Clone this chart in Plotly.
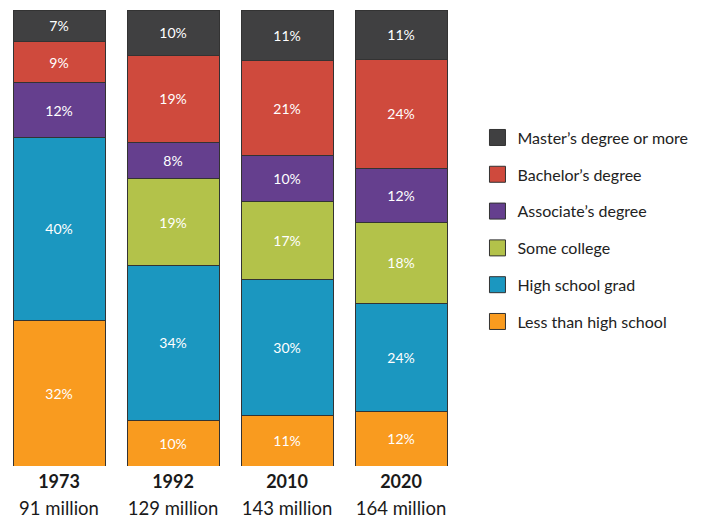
import plotly.graph_objects as go

years = ["1973", "1992", "2010", "2020"]
workers = ["91 million", "129 million", "143 million", "164 million"]

categories = ["Less than high school", "High school grad", "Some college",
              "Associate’s degree", "Bachelor’s degree", "Master’s degree or more"]
values = {
    "Less than high school": [32, 10, 11, 12],
    "High school grad": [40, 34, 30, 24],
    "Some college": [0, 19, 17, 18],
    "Associate’s degree": [12, 8, 10, 12],
    "Bachelor’s degree": [9, 19, 21, 24],
    "Master’s degree or more": [7, 10, 11, 11],
}
colors = {
    "Less than high school": "#f99b1f",
    "High school grad": "#1b97c0",
    "Some college": "#b3c24a",
    "Associate’s degree": "#653f8e",
    "Bachelor’s degree": "#cf4a3d",
    "Master’s degree or more": "#404041",
}

xlabels = [f"<span style='font-size:18px'><b>{y}</b></span><br><span style='font-size:18.5px'>{w}</span>"
           for y, w in zip(years, workers)]

fig = go.Figure()
for c in categories:
    v = values[c]
    fig.add_trace(go.Bar(
        x=xlabels, y=v, name=c, showlegend=False,
        marker=dict(color=colors[c], line=dict(color="#333333", width=1)),
        text=[f"{x}%" if x else "" for x in v],
        textposition="inside", insidetextanchor="middle",
        textfont=dict(color="white", size=14, family="Lato"),
        hoverinfo="skip",
    ))

for c in reversed(categories):
    fig.add_trace(go.Scatter(
        x=[None], y=[None], mode="markers", name=c, legendgroup=c,
        marker=dict(symbol="square", size=21, color=colors[c],
                    line=dict(color="#333333", width=1)),
    ))

fig.update_layout(
    width=704, height=519,
    barmode="stack", barnorm="percent", bargap=0.193,
    margin=dict(l=2, r=246, t=10, b=53),
    plot_bgcolor="white", paper_bgcolor="white",
    font=dict(family="Lato", color="#222222"),
    xaxis=dict(showgrid=False, showline=False, zeroline=False, ticks="",
               automargin=False,
               tickfont=dict(size=21, color="#1a1a1a"), fixedrange=True),
    yaxis=dict(visible=False, range=[0, 100], fixedrange=True),
    legend=dict(x=1.0427, y=0.7575, xanchor="left", yanchor="top",
                font=dict(size=16, color="#222222"),
                tracegroupgap=13, itemsizing="trace"),
    showlegend=True,
    uniformtext=dict(minsize=8, mode="show"),
)

fig.write_html("out.html", config={"displayModeBar": False},
               post_script="document.body.style.margin='0';")
